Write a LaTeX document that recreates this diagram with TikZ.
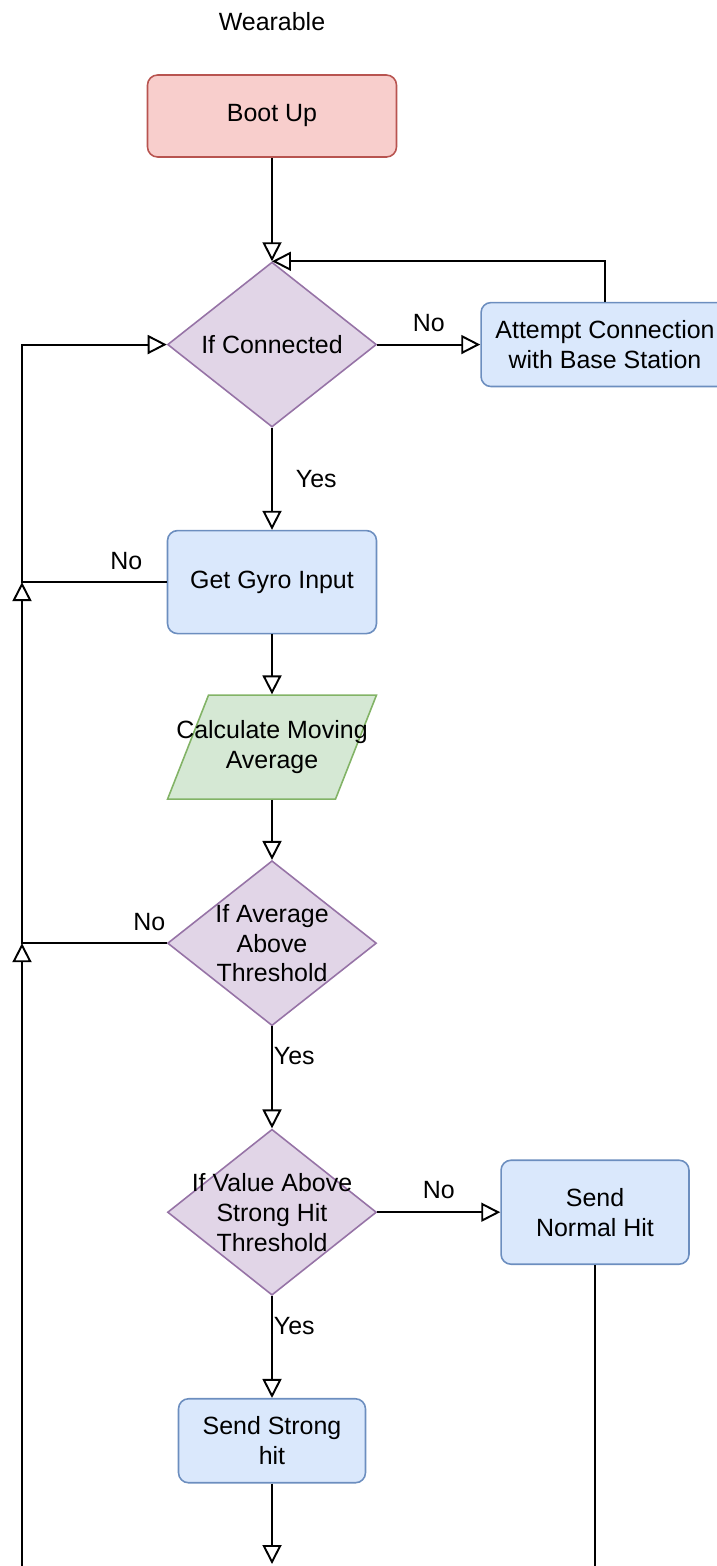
\documentclass[tikz,border=0pt]{standalone}
\usepackage{fontspec}
\setmainfont{Liberation Sans}
\usetikzlibrary{positioning,arrows.meta,shapes.geometric}
\definecolor{redfill}{HTML}{F8CECC}
\definecolor{redline}{HTML}{B85450}
\definecolor{lilac}{HTML}{E1D5E7}
\definecolor{lilacline}{HTML}{9673A6}
\definecolor{sky}{HTML}{DAE8FC}
\definecolor{skyline}{HTML}{6C8EBF}
\definecolor{sage}{HTML}{D5E8D4}
\definecolor{sageline}{HTML}{82B366}
\tikzset{
  flowfont/.style={font=\fontsize{14.2pt}{17pt}\selectfont},
  startbox/.style={draw=redline, fill=redfill, rounded corners=0.2cm, line width=0.9pt, align=center, inner sep=2pt, flowfont},
  stepbox/.style={draw=skyline, fill=sky, rounded corners=0.2cm, line width=0.9pt, align=center, inner sep=2pt, flowfont},
  decision/.style={diamond, draw=lilacline, fill=lilac, line width=0.9pt, inner sep=0pt, minimum width=4.18cm, minimum height=3.3cm},
  iobox/.style={trapezium, trapezium left angle=68.5, trapezium right angle=111.5, draw=sageline, fill=sage, line width=0.9pt, inner xsep=1.27cm, inner ysep=1.04cm},
  shapetext/.style={align=center, inner sep=0pt, flowfont},
  edgelabel/.style={inner sep=0pt, flowfont},
  flowarrow/.style={-{Triangle[open, length=0.38cm, width=0.38cm]}, line width=1.1pt, draw=black},
  flowline/.style={line width=1.1pt, draw=black}
}
\begin{document}
\begin{tikzpicture}[x=0.02cm, y=-0.02cm]
  \clip (0,0) rectangle (717,1566);
  \node[edgelabel] (title) at (272,22) {Wearable};
  \node[startbox, minimum width=4.98cm, minimum height=1.64cm] (boot) at (272,116) {Boot Up};
  \node[decision, below=2.07cm of boot] (conncheck) {};
  \node[shapetext] (conntext) at (conncheck) {If Connected};
  \node[stepbox, right=2.06cm of conncheck, minimum width=4.96cm, minimum height=1.68cm] (attempt) {Attempt Connection\\with Base Station};
  \node[stepbox, below=2.04cm of conncheck, minimum width=4.18cm, minimum height=2.06cm] (gyro) {Get Gyro Input};
  \node[iobox, below=1.2cm of gyro] (movavg) {};
  \node[shapetext] (movavgtext) at (movavg) {Calculate Moving\\Average};
  \node[decision, below=1.2cm of movavg] (avgcheck) {};
  \node[shapetext] (avgtext) at (avgcheck) {If Average\\Above\\Threshold};
  \node[decision, below=2.04cm of avgcheck, minimum height=3.32cm] (hitcheck) {};
  \node[shapetext] (hittext) at (hitcheck) {If Value Above\\Strong Hit\\Threshold};
  \node[stepbox, right=2.46cm of hitcheck, minimum width=3.76cm, minimum height=2.08cm] (normal) {Send\\Normal Hit};
  \node[stepbox, below=2.04cm of hitcheck, minimum width=3.74cm, minimum height=1.68cm] (strong) {Send Strong\\hit};
  \coordinate (rail) at (22,0);
  \coordinate (bottomedge) at (0,1572);
  \coordinate (strongend) at (272,1564);
  \draw[flowarrow] (boot) -- (conncheck);
  \draw[flowarrow] (conncheck) -- node[edgelabel, above=0.24cm] (noconn) {No} (attempt);
  \draw[flowarrow] (attempt.north) |- (conncheck.north);
  \draw[flowarrow] (conncheck) -- node[edgelabel, right=0.46cm] (yesconn) {Yes} (gyro);
  \draw[flowarrow] (gyro.west) -- node[edgelabel, pos=0.28, above=0.22cm] (nogyro) {No} (gyro.west -| rail) |- (conncheck.west);
  \draw[flowarrow] (gyro) -- (movavg);
  \draw[flowarrow] (movavg) -- (avgcheck);
  \draw[flowarrow] (avgcheck.west) -- node[edgelabel, pos=0.12, above=0.22cm] (noavg) {No} (avgcheck.west -| rail) -- (gyro.west -| rail);
  \draw[flowarrow] (rail |- bottomedge) -- (avgcheck.west -| rail);
  \draw[flowarrow] (avgcheck) -- node[edgelabel, pos=0.29, right=0.02cm] (yesavg) {Yes} (hitcheck);
  \draw[flowarrow] (hitcheck) -- node[edgelabel, above=0.26cm] (nohit) {No} (normal);
  \draw[flowarrow] (hitcheck) -- node[edgelabel, pos=0.29, right=0.02cm] (yeshit) {Yes} (strong);
  \draw[flowline] (normal.south) -- (normal.south |- bottomedge);
  \draw[flowarrow] (strong) -- (strongend);
\end{tikzpicture}
\end{document}
